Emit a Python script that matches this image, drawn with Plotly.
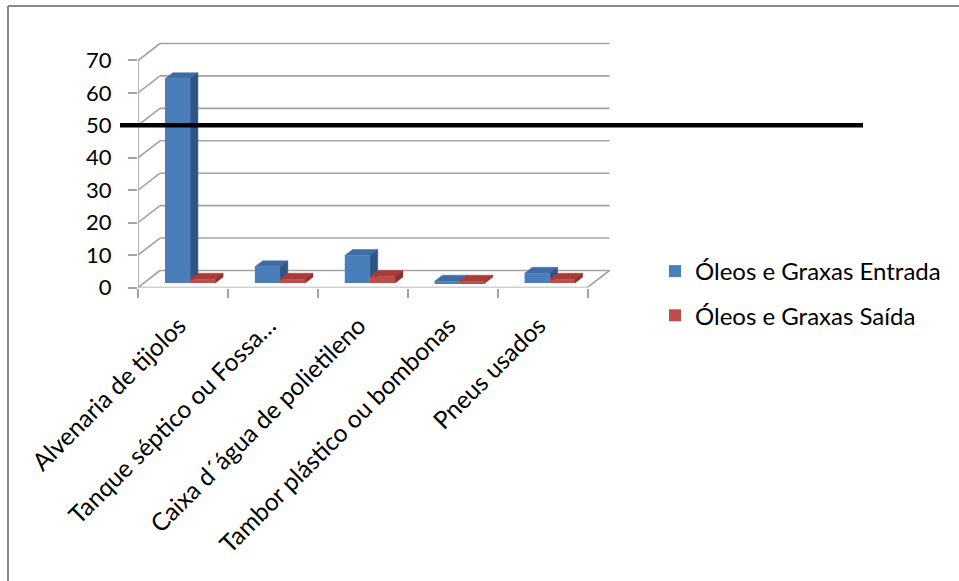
import plotly.graph_objects as go

# ---- data -------------------------------------------------------------
categories = [
    "Alvenaria de tijolos",
    "Tanque séptico ou Fossa…",
    "Caixa d´água de polietileno",
    "Tambor plástico ou bombonas",
    "Pneus usados",
]
entrada = [63, 5, 8.5, 0.6, 3]
saida = [1.2, 1.2, 2, 0.6, 1.2]
y_ticks = [0, 10, 20, 30, 40, 50, 60, 70]
limit_value = 50

series_names = ["Óleos e Graxas Entrada", "Óleos e Graxas Saída"]

# ---- geometry (pixels) ------------------------------------------------
W, H = 959, 581
FRONT_LEFT_PX = 138.0      # x pixel of the front y axis
CAT_PX = 89.9              # pixels per category
ZERO_PX = 287.5            # y pixel of value 0 on the front plane
UNIT_PX = 3.243            # pixels per value unit
X_RANGE = [-0.5, 4.76]
Y_RANGE = [0, 76]

# oblique depth of the chart box, in axis units
DEPTH_X = 22 / CAT_PX
DEPTH_Y = 17 / UNIT_PX
# bars sit a little behind the front plane
BAR_SHIFT_Y = 0.26 * DEPTH_Y
# depth of a bar
BAR_DX = 7.8 / CAT_PX
BAR_DY = 6 / UNIT_PX
BAR_W = 0.28
OFFSETS = [-0.20, 0.08]

xd0 = FRONT_LEFT_PX / W
xd1 = (FRONT_LEFT_PX + (X_RANGE[1] - X_RANGE[0]) * CAT_PX) / W
yd0 = (H - ZERO_PX) / H
yd1 = (H - (ZERO_PX - Y_RANGE[1] * UNIT_PX)) / H

GRID = "#a3a3a3"
FONT = "Lato, 'Open Sans', Arial, sans-serif"

colors = {
    "front": ["#4a7ebb", "#bf4d4a"],
    "top": ["#3e6ca5", "#a93c39"],
    "side": ["#2f5588", "#8a302e"],
}

shapes = []

def line(x0, y0, x1, y1, color=GRID, width=1.6, layer="below"):
    shapes.append(dict(type="line", xref="x", yref="y", x0=x0, y0=y0, x1=x1, y1=y1,
                       line=dict(color=color, width=width), layer=layer))

# back wall and side wall gridlines
for v in y_ticks:
    line(X_RANGE[0], v, X_RANGE[0] + DEPTH_X, v + DEPTH_Y)
    line(X_RANGE[0] + DEPTH_X, v + DEPTH_Y, 4.5 + DEPTH_X, v + DEPTH_Y)
# front value axis
line(-0.5, 0, -0.5, 70)
# floor front edge and right edge
line(-0.5, 0, 4.5, 0)
line(4.5, 0, 4.5 + DEPTH_X, DEPTH_Y)

def poly(points, color, layer):
    path = "M " + " L ".join(f"{x},{y}" for x, y in points) + " Z"
    shapes.append(dict(type="path", xref="x", yref="y", path=path,
                       fillcolor=color, line=dict(color=color, width=0.5), layer=layer))

fig = go.Figure()

for s, values in enumerate([entrada, saida]):
    layer = "below" if s == 0 else "above"
    for i, v in enumerate(values):
        x0 = i + OFFSETS[s]
        x1 = x0 + BAR_W
        b = BAR_SHIFT_Y
        top = b + v
        # top face
        poly([(x0, top), (x1, top), (x1 + BAR_DX, top + BAR_DY), (x0 + BAR_DX, top + BAR_DY)],
             colors["top"][s], layer)
        # side face
        poly([(x1, b), (x1, top), (x1 + BAR_DX, top + BAR_DY), (x1 + BAR_DX, b + BAR_DY)],
             colors["side"][s], layer)
    fig.add_trace(go.Bar(
        x=categories, y=values, base=[BAR_SHIFT_Y] * len(values),
        offset=OFFSETS[s], width=BAR_W, name=series_names[s],
        marker=dict(color=colors["front"][s], line=dict(width=0)),
        legendgroup=f"g{s}", hoverinfo="skip",
    ))

# threshold line at the limit value
y_lim = yd0 + (limit_value - Y_RANGE[0]) / (Y_RANGE[1] - Y_RANGE[0]) * (yd1 - yd0)
shapes.append(dict(type="line", xref="paper", yref="paper", x0=120 / W, x1=863 / W,
                   y0=y_lim, y1=y_lim, line=dict(color="black", width=4.5), layer="above"))

# chart frame (top and left edges)
shapes.append(dict(type="line", xref="paper", yref="paper", x0=8 / W, x1=1, y0=1 - 6 / H, y1=1 - 6 / H,
                   line=dict(color="#8a8a8a", width=2)))
shapes.append(dict(type="line", xref="paper", yref="paper", x0=8 / W, x1=8 / W, y0=0, y1=1 - 6 / H,
                   line=dict(color="#8a8a8a", width=2)))

fig.update_layout(
    width=W, height=H,
    margin=dict(l=0, r=0, t=0, b=0, autoexpand=False),
    paper_bgcolor="white", plot_bgcolor="white",
    font=dict(family=FONT, color="black"),
    shapes=shapes,
    showlegend=True,
    legend=dict(
        x=655 / W, y=1 - 249 / H, xanchor="left", yanchor="top",
        font=dict(size=24, family=FONT, color="black"),
        tracegroupgap=10, bgcolor="rgba(0,0,0,0)",
    ),
    xaxis=dict(
        type="category", range=X_RANGE, domain=[xd0, xd1], automargin=False,
        showgrid=False, showline=False, zeroline=False,
        tickson="boundaries", ticks="outside", ticklen=9, tickwidth=1.6, tickcolor=GRID,
        tickangle=-45, tickfont=dict(size=24.5, family=FONT, color="black"),
        ticklabelstandoff=18, ticklabelshift=-4,
        fixedrange=True,
    ),
    yaxis=dict(
        range=Y_RANGE, domain=[yd0, yd1], tickvals=y_ticks, automargin=False,
        showgrid=False, showline=False, zeroline=False,
        ticks="outside", ticklen=9, tickwidth=1.6, tickcolor=GRID,
        tickfont=dict(size=22, family=FONT, color="black"),
        ticklabelstandoff=12,
        fixedrange=True,
    ),
)

fig.write_html("out.html")
